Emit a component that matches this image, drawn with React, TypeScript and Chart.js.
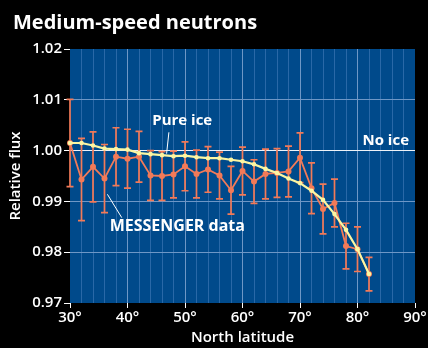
import React, { useEffect, useRef } from 'react';
import { Chart, registerables } from 'chart.js';
Chart.register(...registerables);

const chartTitle = 'Medium-speed neutrons';
const xAxisTitle = 'North latitude';
const yAxisTitle = 'Relative flux';

const latitudes = [30, 32, 34, 36, 38, 40, 42, 44, 46, 48, 50, 52, 54, 56, 58, 60, 62, 64, 66, 68, 70, 72, 74, 76, 78, 80, 82];
const messengerFlux = [1.0015, 0.9943, 0.9968, 0.9945, 0.9988, 0.9984, 0.9988, 0.9951, 0.995, 0.9953, 0.9969, 0.9954, 0.9963, 0.9951, 0.9922, 0.996, 0.9939, 0.9954, 0.9956, 0.9959, 0.9986, 0.9926, 0.9885, 0.9897, 0.9812, 0.9806, 0.9757];
const messengerErr = [0.0086, 0.0081, 0.0069, 0.0067, 0.0057, 0.0058, 0.005, 0.0049, 0.0048, 0.0046, 0.0048, 0.0047, 0.0045, 0.0046, 0.0047, 0.0047, 0.0043, 0.0049, 0.0048, 0.005, 0.0049, 0.005, 0.0049, 0.0047, 0.0045, 0.0044, 0.0033];
const pureIceFlux = [1.0015, 1.0015, 1.001, 1.0004, 1.0003, 1.0002, 0.9995, 0.9993, 0.9991, 0.9989, 0.999, 0.9987, 0.9985, 0.9985, 0.9982, 0.9979, 0.9973, 0.9964, 0.9956, 0.9945, 0.9936, 0.9921, 0.9903, 0.9875, 0.9844, 0.9806, 0.9757];

const xMin = 30;
const xMax = 90;
const yMin = 0.97;
const yMax = 1.02;

const labelPureIce = 'Pure ice';
const labelNoIce = 'No ice';
const labelMessenger = 'MESSENGER data';

const ORANGE = '#f27a58';
const YELLOW = '#fcf6a2';
const BLUE = '#004a8b';
const FONT = '"Open Sans", sans-serif';

const backgroundPlugin = {
  id: 'bgPlugin',
  beforeDraw(chart: any) {
    const { ctx, chartArea } = chart;
    ctx.save();
    ctx.fillStyle = '#000';
    ctx.fillRect(0, 0, chart.width, chart.height);
    ctx.fillStyle = BLUE;
    ctx.fillRect(chartArea.left, chartArea.top, chartArea.right - chartArea.left, chartArea.bottom - chartArea.top);
    ctx.restore();
  },
};

const errorBarPlugin = {
  id: 'errorBars',
  beforeDatasetsDraw(chart: any) {
    const { ctx } = chart;
    const xs = chart.scales.x;
    const ys = chart.scales.y;
    ctx.save();
    ctx.strokeStyle = ORANGE;
    ctx.lineWidth = 1.7;
    latitudes.forEach((lat, i) => {
      const x = xs.getPixelForValue(lat);
      const yTop = ys.getPixelForValue(messengerFlux[i] + messengerErr[i]);
      const yBot = ys.getPixelForValue(messengerFlux[i] - messengerErr[i]);
      ctx.beginPath();
      ctx.moveTo(x, yTop);
      ctx.lineTo(x, yBot);
      ctx.moveTo(x - 3.5, yTop);
      ctx.lineTo(x + 3.5, yTop);
      ctx.moveTo(x - 3.5, yBot);
      ctx.lineTo(x + 3.5, yBot);
      ctx.stroke();
    });
    ctx.restore();
  },
};

const textPlugin = {
  id: 'texts',
  afterDraw(chart: any) {
    const { ctx, chartArea } = chart;
    const xs = chart.scales.x;
    const ys = chart.scales.y;
    ctx.save();
    ctx.fillStyle = '#fff';
    ctx.textBaseline = 'middle';
    ctx.font = `bold 20px ${FONT}`;
    ctx.textAlign = 'left';
    ctx.fillText(chartTitle, 13, 23);
    ctx.font = `600 15px ${FONT}`;
    ctx.textAlign = 'center';
    ctx.fillText(xAxisTitle, (chartArea.left + chartArea.right) / 2, 338);
    ctx.save();
    ctx.translate(16, (chartArea.top + chartArea.bottom) / 2);
    ctx.rotate(-Math.PI / 2);
    ctx.fillText(yAxisTitle, 0, 0);
    ctx.restore();
    ctx.font = `bold 15px ${FONT}`;
    ctx.textAlign = 'left';
    ctx.fillText(labelPureIce, xs.getPixelForValue(44.3), ys.getPixelForValue(1.0059));
    ctx.textAlign = 'right';
    ctx.fillText(labelNoIce, chartArea.right - 6, ys.getPixelForValue(1.002));
    ctx.font = `bold 16px ${FONT}`;
    ctx.textAlign = 'left';
    ctx.fillText(labelMessenger, xs.getPixelForValue(36.9), ys.getPixelForValue(0.985));
    ctx.strokeStyle = '#fff';
    ctx.lineWidth = 1;
    ctx.beginPath();
    ctx.moveTo(xs.getPixelForValue(47.2), ys.getPixelForValue(1.0036));
    ctx.lineTo(xs.getPixelForValue(46.8), ys.getPixelForValue(0.9994));
    ctx.moveTo(xs.getPixelForValue(36.5), ys.getPixelForValue(0.9914));
    ctx.lineTo(xs.getPixelForValue(39.0), ys.getPixelForValue(0.9868));
    ctx.stroke();
    ctx.restore();
  },
};

export default function App() {
  const canvasRef = useRef<HTMLCanvasElement | null>(null);

  useEffect(() => {
    if (!canvasRef.current) return;
    const chart = new Chart(canvasRef.current, {
      type: 'line',
      data: {
        datasets: [
          {
            label: 'Pure ice',
            data: latitudes.map((lat, i) => ({ x: lat, y: pureIceFlux[i] })),
            borderColor: YELLOW,
            backgroundColor: YELLOW,
            borderWidth: 2.2,
            pointRadius: 2.3,
            pointHoverRadius: 2.3,
            pointBorderWidth: 0,
            tension: 0,
            clip: false,
            order: 0,
          } as any,
          {
            label: 'MESSENGER data',
            data: latitudes.map((lat, i) => ({ x: lat, y: messengerFlux[i] })),
            borderColor: ORANGE,
            backgroundColor: ORANGE,
            borderWidth: 1.8,
            pointRadius: 3,
            pointHoverRadius: 3,
            pointBorderWidth: 0,
            tension: 0,
            clip: false,
            order: 1,
          } as any,
        ],
      },
      options: {
        animation: false,
        responsive: false,
        maintainAspectRatio: false,
        events: [],
        layout: { padding: { left: 0, top: 49, right: 13, bottom: 0 } },
        plugins: {
          legend: { display: false },
          title: { display: false },
          tooltip: { enabled: false },
        },
        scales: {
          x: {
            type: 'linear',
            min: xMin,
            max: xMax,
            afterFit(scale: any) {
              scale.height = 45;
            },
            afterBuildTicks(scale: any) {
              const t = [];
              for (let v = xMin; v <= xMax; v += 2) t.push({ value: v });
              scale.ticks = t;
            },
            border: { display: false },
            grid: {
              drawTicks: true,
              tickLength: 5,
              lineWidth: 1,
              color: (c: any) => {
                const v = c.tick ? c.tick.value : 0;
                if (v === xMin || v === xMax) return 'rgba(0,0,0,0)';
                return v % 10 === 0 ? '#6e97c6' : '#2968a7';
              },
              tickColor: (c: any) => {
                const v = c.tick ? c.tick.value : 0;
                return v % 10 === 0 ? '#ffffff' : 'rgba(0,0,0,0)';
              },
            },
            ticks: {
              autoSkip: false,
              maxRotation: 0,
              padding: 1,
              color: '#ffffff',
              font: { family: FONT, size: 15, weight: '600' },
              callback: (v: any) => (Number(v) % 10 === 0 ? `${v}°` : ''),
            },
          },
          y: {
            type: 'linear',
            min: yMin,
            max: yMax,
            afterFit(scale: any) {
              scale.width = 70;
            },
            border: { display: false },
            grid: {
              drawTicks: true,
              tickLength: 6,
              lineWidth: 1,
              color: (c: any) => {
                const v = c.tick ? c.tick.value : 0;
                if (Math.abs(v - 1) < 1e-6) return '#eef2f8';
                if (Math.abs(v - yMin) < 1e-6 || Math.abs(v - yMax) < 1e-6) return 'rgba(0,0,0,0)';
                return '#6e97c6';
              },
              tickColor: '#ffffff',
            },
            ticks: {
              stepSize: 0.01,
              padding: 2,
              color: '#ffffff',
              font: { family: FONT, size: 15, weight: '600' },
              callback: (v: any) => Number(v).toFixed(2),
            },
          },
        },
      },
      plugins: [backgroundPlugin, errorBarPlugin, textPlugin],
    } as any);
    return () => chart.destroy();
  }, []);

  return (
    <div style={{ position: 'fixed', left: 0, top: 0, width: 428, height: 348, background: '#000' }}>
      <canvas ref={canvasRef} width={428} height={348} style={{ width: 428, height: 348, display: 'block' }} />
    </div>
  );
}
